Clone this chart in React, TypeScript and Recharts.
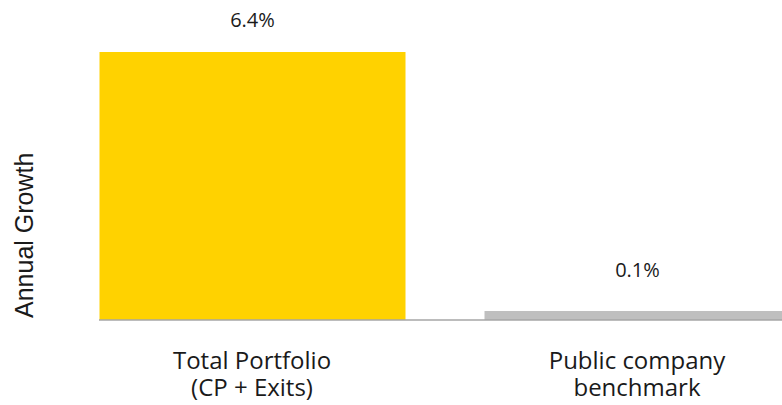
import React from 'react';
import { BarChart, Bar, XAxis, YAxis, Cell, LabelList } from 'recharts';

const categoryLines: string[][] = [
  ['Total Portfolio', '(CP + Exits)'],
  ['Public company', 'benchmark'],
];
const categories = categoryLines.map((l) => l.join(' '));
const growthValues = [6.4, 0.1];
const valueLabels = ['6.4%', '0.1%'];
const barColors = ['#FFD200', '#BFBFBF'];
const yAxisTitle = 'Annual Growth';

const data = categories.map((name, i) => ({
  name,
  value: growthValues[i],
  label: valueLabels[i],
}));

const TEXT = '#1a1a1a';

const CategoryTick = (props: any) => {
  const { x, y, index } = props;
  const lines = categoryLines[index] || [];
  return (
    <g>
      {lines.map((ln, i) => (
        <text
          key={i}
          x={x}
          y={Number(y) + 49 + i * 27}
          textAnchor="middle"
          fontFamily="'Open Sans'"
          fontSize={24}
          fill={TEXT}
        >
          {ln}
        </text>
      ))}
    </g>
  );
};

const ValueLabel = (props: any) => {
  const { x, y, width, index } = props;
  const off = index === 0 ? 25 : 34;
  return (
    <text
      x={Number(x) + Number(width) / 2}
      y={Number(y) - off}
      textAnchor="middle"
      fontFamily="'Open Sans'"
      fontSize={20}
      fill={TEXT}
    >
      {valueLabels[index]}
    </text>
  );
};

const YTitle = (props: any) => {
  const { viewBox } = props;
  const bx = 33;
  const by = viewBox.y + viewBox.height - 2;
  return (
    <text
      x={bx}
      y={by}
      transform={`rotate(-90 ${bx} ${by})`}
      textAnchor="start"
      fontFamily="'Liberation Sans', Arial, sans-serif"
      fontSize={25}
      fill={TEXT}
    >
      {yAxisTitle}
    </text>
  );
};

export default function App() {
  return (
    <div
      style={{
        position: 'absolute',
        left: 0,
        top: 0,
        width: 782,
        height: 405,
        overflow: 'hidden',
        background: '#fff',
      }}
    >
      <BarChart
        width={860}
        height={405}
        data={data}
        margin={{ top: 52, right: 30.5, left: 0, bottom: 0 }}
      >
        <XAxis
          dataKey="name"
          axisLine={{ stroke: '#A6A6A6', strokeWidth: 1.5 }}
          tickLine={false}
          tickSize={0}
          tickMargin={0}
          height={85}
          padding={{ left: -39.5, right: 0 }}
          tick={<CategoryTick />}
          interval={0}
        />
        <YAxis
          width={99}
          domain={[0, 6.4]}
          axisLine={false}
          tickLine={false}
          tick={false}
          label={<YTitle />}
        />
        <Bar dataKey="value" barSize={306} minPointSize={9} isAnimationActive={false}>
          {data.map((d, i) => (
            <Cell key={d.name} fill={barColors[i]} />
          ))}
          <LabelList dataKey="label" content={<ValueLabel />} />
        </Bar>
      </BarChart>
    </div>
  );
}
